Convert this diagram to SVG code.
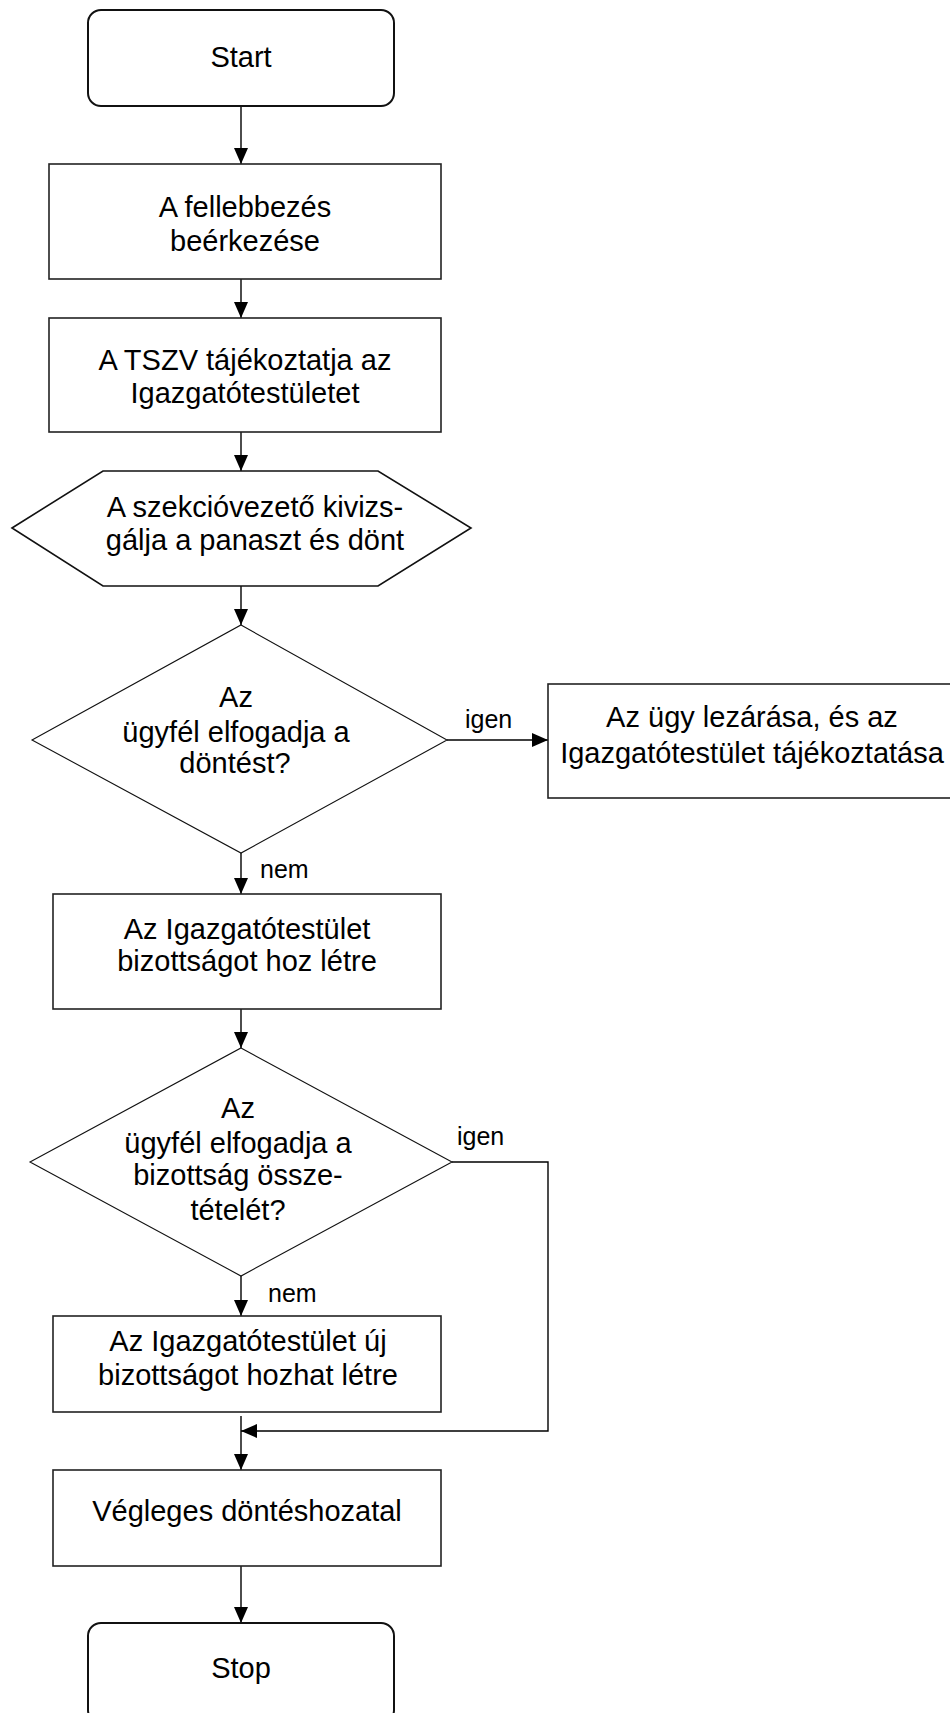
<svg xmlns="http://www.w3.org/2000/svg" width="950" height="1713" viewBox="0 0 950 1713">
<defs>
<marker id="ah" markerWidth="16" markerHeight="14" refX="16" refY="7" orient="auto" markerUnits="userSpaceOnUse">
<path d="M0,0 L16,7 L0,14 Z" fill="#000"/>
</marker>
<style>
.t{font-family:"Liberation Sans",Arial,sans-serif;font-size:29px;fill:#000;text-anchor:middle}
.l{font-family:"Liberation Sans",Arial,sans-serif;font-size:25px;fill:#000}
.box{fill:#fff;stroke:#222;stroke-width:1.6}
.rnd{fill:#fff;stroke:#111;stroke-width:2}
.dia{fill:#fff;stroke:#111;stroke-width:1.1}
.c{fill:none;stroke:#000;stroke-width:1.4}
</style>
</defs>
<rect width="950" height="1713" fill="#fff"/>
<g id="connectors">
<line class="c" x1="241" y1="106" x2="241" y2="164" marker-end="url(#ah)"/>
<line class="c" x1="241" y1="279" x2="241" y2="318" marker-end="url(#ah)"/>
<line class="c" x1="241" y1="432" x2="241" y2="471" marker-end="url(#ah)"/>
<line class="c" x1="241" y1="586" x2="241" y2="625" marker-end="url(#ah)"/>
<line class="c" x1="447" y1="740" x2="548" y2="740" marker-end="url(#ah)"/>
<line class="c" x1="241" y1="853" x2="241" y2="894" marker-end="url(#ah)"/>
<line class="c" x1="241" y1="1009" x2="241" y2="1048" marker-end="url(#ah)"/>
<line class="c" x1="241" y1="1276" x2="241" y2="1316" marker-end="url(#ah)"/>
<polyline class="c" points="452,1162 548,1162 548,1431 241,1431" marker-end="url(#ah)"/>
<line class="c" x1="241" y1="1416" x2="241" y2="1470" marker-end="url(#ah)"/>
<line class="c" x1="241" y1="1566" x2="241" y2="1623" marker-end="url(#ah)"/>
<text class="l" x="465" y="728">igen</text>
<text class="l" x="260" y="878">nem</text>
<text class="l" x="457" y="1145">igen</text>
<text class="l" x="268" y="1302">nem</text>
</g>
<g id="start">
<rect class="rnd" x="88" y="10" width="306" height="96" rx="13"/>
<text class="t" x="241" y="67">Start</text>
</g>
<g id="beerkezes">
<rect class="box" x="49" y="164" width="392" height="115"/>
<text class="t" x="245" y="217">A fellebbezés</text>
<text class="t" x="245" y="251">beérkezése</text>
</g>
<g id="tajekoztat">
<rect class="box" x="49" y="318" width="392" height="114"/>
<text class="t" x="245" y="370">A TSZV tájékoztatja az</text>
<text class="t" x="245" y="403">Igazgatótestületet</text>
</g>
<g id="kivizsgal">
<polygon class="rnd" style="stroke-width:1.6" points="12,528 103,471 378,471 471,528 378,586 103,586"/>
<text class="t" x="255" y="517">A szekcióvezető kivizs-</text>
<text class="t" x="255" y="550">gálja a panaszt és dönt</text>
</g>
<g id="dontes1">
<polygon class="dia" points="241,625 447,740 241,853 32,740"/>
<text class="t" x="236" y="707">Az</text>
<text class="t" x="236" y="742">ügyfél elfogadja a</text>
<text class="t" x="235" y="773">döntést?</text>
</g>
<g id="lezaras">
<rect class="box" x="548" y="684" width="420" height="114"/>
<text class="t" x="752" y="727">Az ügy lezárása, és az</text>
<text class="t" x="752" y="763">Igazgatótestület tájékoztatása</text>
</g>
<g id="bizottsag">
<rect class="box" x="53" y="894" width="388" height="115"/>
<text class="t" x="247" y="939">Az Igazgatótestület</text>
<text class="t" x="247" y="971">bizottságot hoz létre</text>
</g>
<g id="dontes2">
<polygon class="dia" points="241,1048 452,1162 241,1276 30,1162"/>
<text class="t" x="238" y="1118">Az</text>
<text class="t" x="238" y="1153">ügyfél elfogadja a</text>
<text class="t" x="238" y="1185">bizottság össze-</text>
<text class="t" x="238" y="1220">tételét?</text>
</g>
<g id="ujbizottsag">
<rect class="box" x="53" y="1316" width="388" height="96"/>
<text class="t" x="248" y="1351">Az Igazgatótestület új</text>
<text class="t" x="248" y="1385">bizottságot hozhat létre</text>
</g>
<g id="vegleges">
<rect class="box" x="53" y="1470" width="388" height="96"/>
<text class="t" x="247" y="1521">Végleges döntéshozatal</text>
</g>
<g id="stop">
<rect class="rnd" x="88" y="1623" width="306" height="100" rx="13"/>
<text class="t" x="241" y="1678">Stop</text>
</g>
</svg>
